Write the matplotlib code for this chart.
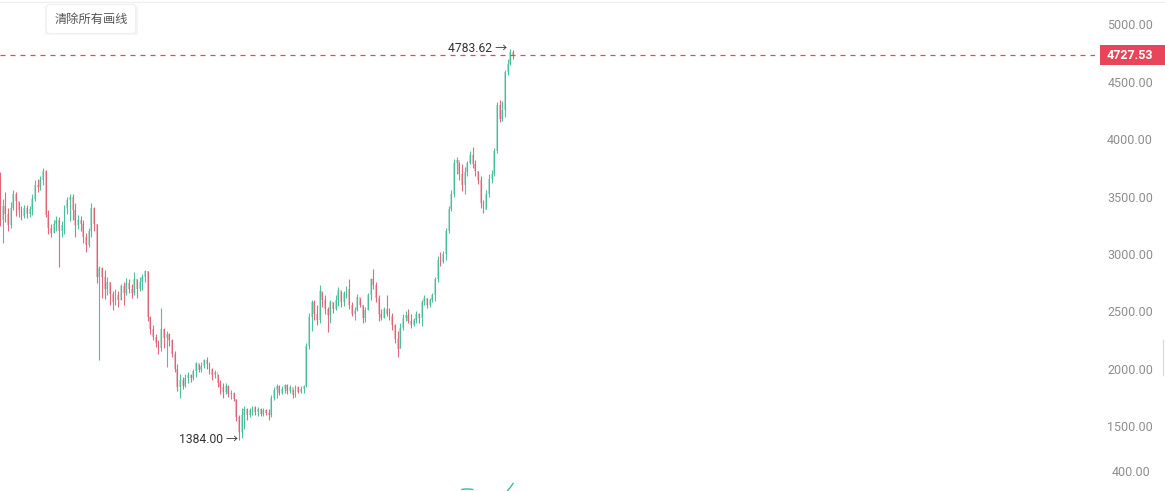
import numpy as np
import matplotlib.pyplot as plt
from matplotlib.patches import Rectangle
from matplotlib.lines import Line2D
from matplotlib.transforms import blended_transform_factory

plt.rcParams['font.family'] = ['Roboto', 'Noto Sans CJK SC', 'DejaVu Sans']

# 数据: 收盘价 / 最高价 / 最低价 (开盘价 = 上一根收盘价)
first_open = 3650
closes = [3300, 3420, 3350, 3250, 3400, 3520, 3460, 3380, 3330, 3400,
          3350, 3390, 3480, 3600, 3580, 3640, 3720, 3340, 3230, 3180,
          3260, 3300, 3200, 3250, 3400, 3470, 3500, 3380, 3250, 3300,
          3260, 3150, 3080, 3200, 3400, 3260, 2800,
          2880, 2800, 2700, 2760, 2650, 2580, 2640, 2600, 2720, 2660,
          2750, 2700, 2660, 2780, 2700, 2760, 2800, 2850, 2450, 2350,
          2280, 2230, 2180, 2350, 2270, 2300, 2250, 2130, 2000, 1840,
          1900, 1850, 1920, 1950, 1920, 1980, 2050, 1990, 2030, 2080,
          2040, 2000, 1950, 1970, 1880, 1840, 1800, 1850, 1780, 1790,
          1740, 1580, 1450,
          1600, 1650, 1600, 1640, 1670, 1630, 1650, 1610, 1640, 1620,
          1600, 1750, 1820, 1850, 1790, 1830, 1860, 1810, 1840, 1770,
          1840, 1800, 1830, 1850, 2200,
          2450, 2580, 2480, 2430, 2680, 2600, 2520, 2470, 2580, 2520,
          2600, 2690, 2580, 2660, 2700, 2560, 2480, 2510, 2630, 2560,
          2440, 2510, 2640, 2780, 2730,
          2620, 2480, 2440, 2520, 2480, 2460, 2380, 2260, 2170, 2360,
          2440, 2470, 2420, 2380, 2430, 2480, 2440, 2580, 2620, 2560,
          2600, 2640, 2780, 2950,
          2930, 3000, 3200, 3390, 3520, 3790, 3820, 3700, 3600, 3710,
          3790, 3860, 3780, 3720, 3640, 3440, 3380, 3520, 3650, 3700,
          3900, 4300, 4170, 4250, 4580, 4650, 4760, 4727.53]
highs = [3710, 3480, 3540, 3400, 3450, 3560, 3540, 3450, 3420, 3430,
         3430, 3420, 3520, 3640, 3650, 3680, 3750, 3730, 3380, 3260,
         3300, 3330, 3320, 3290, 3430, 3500, 3520, 3520, 3440, 3340,
         3330, 3300, 3180, 3230, 3440, 3410, 3260,
         2900, 2890, 2860, 2800, 2760, 2680, 2700, 2680, 2740, 2760,
         2790, 2780, 2740, 2840, 2780, 2800, 2830, 2860, 2850, 2460,
         2380, 2300, 2250, 2530, 2360, 2330, 2310, 2260, 2160, 2040,
         1960, 1930, 1960, 1970, 1960, 2000, 2060, 2040, 2060, 2090,
         2100, 2060, 2010, 1990, 1960, 1900, 1880, 1880, 1860, 1820,
         1800, 1740, 1600,
         1660, 1680, 1660, 1660, 1680, 1680, 1670, 1660, 1660, 1650,
         1650, 1770, 1840, 1870, 1860, 1850, 1870, 1870, 1860, 1830,
         1860, 1850, 1850, 1860, 2230,
         2490, 2600, 2600, 2560, 2730, 2670, 2640, 2540, 2600, 2580,
         2640, 2710, 2680, 2680, 2720, 2780, 2580, 2540, 2650, 2620,
         2560, 2540, 2660, 2790, 2870,
         2760, 2640, 2520, 2540, 2640, 2530, 2490, 2390, 2330, 2400,
         2480, 2500, 2520, 2480, 2440, 2500, 2490, 2600, 2640, 2620,
         2620, 2660, 2800, 2980,
         3020, 3030, 3230, 3420, 3560, 3830, 3840, 3800, 3780, 3760,
         3810, 3900, 3930, 3820, 3720, 3680, 3470, 3560, 3700, 3730,
         3920, 4320, 4340, 4330, 4600, 4700, 4783.62, 4770]
lows = [3240, 3100, 3280, 3200, 3230, 3380, 3330, 3320, 3300, 3310,
        3310, 3320, 3340, 3460, 3540, 3560, 3600, 3320, 3170, 3150,
        3180, 3200, 2890, 3150, 3170, 3350, 3290, 3300, 3150, 3220,
        3200, 3100, 3020, 3060, 3150, 3200, 2750,
        2080, 2620, 2610, 2640, 2560, 2510, 2560, 2540, 2600, 2560,
        2640, 2660, 2620, 2640, 2620, 2680, 2690, 2760, 2420, 2300,
        2250, 2190, 2130, 2160, 2180, 2020, 2200, 2100, 1970, 1810,
        1750, 1830, 1840, 1880, 1890, 1900, 1930, 1970, 1970, 2010,
        2000, 1960, 1900, 1920, 1840, 1780, 1750, 1780, 1760, 1740,
        1720, 1550, 1384,
        1400, 1480, 1560, 1580, 1600, 1600, 1590, 1590, 1590, 1600,
        1560, 1580, 1730, 1750, 1770, 1780, 1790, 1780, 1790, 1750,
        1760, 1790, 1790, 1790, 1840,
        2170, 2330, 2430, 2380, 2400, 2540, 2480, 2320, 2400, 2490,
        2510, 2550, 2540, 2550, 2620, 2520, 2460, 2430, 2500, 2540,
        2400, 2410, 2510, 2600, 2700,
        2580, 2420, 2430, 2440, 2460, 2430, 2340, 2230, 2100, 2180,
        2340, 2420, 2400, 2360, 2370, 2400, 2400, 2370, 2560, 2530,
        2540, 2580, 2590, 2760,
        2900, 2920, 2950, 3180, 3370, 3500, 3700, 3640, 3550, 3520,
        3680, 3780, 3750, 3680, 3610, 3400, 3356, 3390, 3500, 3620,
        3680, 3880, 4150, 4160, 4190, 4560, 4640, 4700]

price_ticks = [1500, 2000, 2500, 3000, 3500, 4000, 4500, 5000]
last_price = closes[-1]

# 成交量副图 (只露出一点)
vol_idx_a = [172, 173, 174, 175, 176]
vol_a = [30, 40, 40, 38, 30]
vol_idx_b = [189, 190, 191]
vol_b = [10, 70, 150]

W, H = 1165, 491
green = '#3dba95'
red = '#de5a70'

closes = np.array(closes, dtype=float)
highs = np.array(highs, dtype=float)
lows = np.array(lows, dtype=float)
opens = np.concatenate([[first_open], closes[:-1]])
idx = np.arange(len(closes))
up = closes >= opens
cols = np.where(up, green, red)

fig = plt.figure(figsize=(W / 100, H / 100), dpi=100)
ax = fig.add_axes([0, 36 / H, 1095 / W, 455 / H])

ppc = 513 / (len(closes) - 1)
ax.set_xlim(0, 1095 / ppc)
ax.set_ylim(1252, 5209)

ax.vlines(idx, lows, highs, colors=cols, linewidth=0.8, alpha=0.9)
body_lo = np.minimum(opens, closes)
body_h = np.maximum(np.abs(closes - opens), 8)
ax.bar(idx, body_h, bottom=body_lo, width=0.7, color=cols, alpha=0.4, linewidth=0)

ax.axhline(last_price, color='#e8455a', linewidth=0.9, linestyle=(0, (4, 4)))

for s in ax.spines.values():
    s.set_visible(False)
ax.set_xticks([])
ax.set_yticks(price_ticks)
ax.set_yticklabels([f'{v:.2f}' for v in price_ticks])
ax.yaxis.tick_right()
ax.tick_params(axis='y', length=0, pad=58 * 0.72, labelsize=9, labelcolor='#8e8e8e')
for lbl in ax.get_yticklabels():
    lbl.set_horizontalalignment('right')

# 最高 / 最低 标注
hi = int(np.argmax(highs))
lo = int(np.argmin(lows))
ax.annotate(f'{highs[hi]:.2f} →', xy=(hi, highs[hi]), xytext=(-2, 0),
            textcoords='offset points', ha='right', va='center', fontsize=8.7, color='#333333')
ax.annotate(f'{lows[lo]:.2f} →', xy=(lo, lows[lo]), xytext=(-1, 0),
            textcoords='offset points', ha='right', va='center', fontsize=8.7, color='#333333')

# 最新价标签
tr = blended_transform_factory(fig.transFigure, ax.transData)
ax.add_patch(Rectangle((1100 / W, last_price - 88), 65 / W, 176, transform=tr,
                       facecolor='#e8455a', edgecolor='none', clip_on=False))
ax.text(1153 / W, last_price, f'{last_price:.2f}', transform=tr, ha='right', va='center',
        color='white', fontsize=9, fontweight='bold', clip_on=False)

# 成交量
vax = fig.add_axes([0, 0, 1095 / W, 36 / H])
vax.set_xlim(ax.get_xlim())
vax.set_ylim(0, 720)
vax.plot(vol_idx_a, vol_a, color=green, linewidth=1)
vax.plot(vol_idx_b, vol_b, color=green, linewidth=1)
for s in vax.spines.values():
    s.set_visible(False)
vax.set_xticks([])
vax.set_yticks([400])
vax.set_yticklabels(['400.00'])
vax.yaxis.tick_right()
vax.tick_params(axis='y', length=0, pad=55 * 0.72, labelsize=9, labelcolor='#8e8e8e')
for lbl in vax.get_yticklabels():
    lbl.set_horizontalalignment('right')

# 顶部细线和右侧滚动条
fig.add_artist(Line2D([0, 1], [1 - 2 / H, 1 - 2 / H], color='#f0f0f0', linewidth=1))
fig.add_artist(Line2D([1163 / W, 1163 / W], [1 - 340 / H, 1 - 375 / H], color='#dddddd', linewidth=1))

# 按钮 (带阴影)
fig.patches.append(Rectangle((45 / W, 1 - 35 / H), 93 / W, 29 / H, transform=fig.transFigure,
                             facecolor='#f5f5f5', edgecolor='none'))
fig.text(91 / W, 1 - 19 / H, '清除所有画线', ha='center', va='center', fontsize=8.8,
         color='#555555', family=['Noto Sans CJK SC', 'DejaVu Sans'],
         bbox=dict(boxstyle='round,pad=0.65,rounding_size=0.3', fc='white', ec='#f0f0f0', lw=0.8))

fig.savefig('out.png', dpi=100)
